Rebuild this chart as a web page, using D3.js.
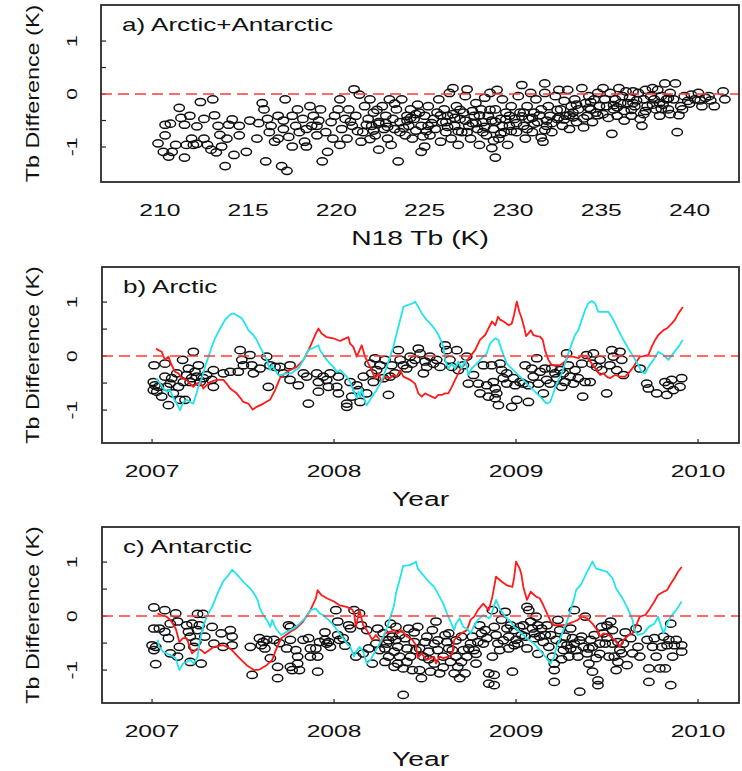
<!DOCTYPE html>
<html>
<head>
<meta charset="utf-8">
<script src="https://cdn.jsdelivr.net/npm/d3@7"></script>
<style>
  body { margin: 0; background: #fff; }
  text { font-family: "Liberation Sans", Arial, sans-serif; fill: #111; }
</style>
</head>
<body>
<div id="graph"></div>
<script>
'use strict';

// tick values
const N18_TICKS = [210, 215, 220, 225, 230, 235, 240];
const YEAR_TICKS = [2007, 2008, 2009, 2010];
const DIFF_TICKS = [-1, -0.5, 0, 0.5, 1];
const DIFF_LABELS = [-1, 0, 1];

// a) N18 Tb vs Tb difference
const pointsAll = [
  [209.9,-0.93],[210.3,-0.78],[210.3,-0.58],[210.6,-0.56],[210.7,-1.09],[210.9,-0.96],[211.1,-0.26],[211.2,-0.45],[211.4,-1.2],[211.5,-0.96],
  [211.7,-0.41],[211.8,-0.84],[211.9,-0.96],[212.1,-0.94],[212.3,-0.15],[212.5,-0.47],[212.5,-0.84],[212.7,-0.96],[212.9,-1.05],[213.0,-0.10],
  [213.1,-0.40],[213.2,-1.10],[213.3,-0.60],[213.5,-0.99],[213.7,-1.36],[213.8,-0.84],[214.1,-0.48],[214.2,-1.15],[214.5,-0.78],[214.5,-0.60],
  [214.9,-1.09],[215.1,-0.50],[210.2,-1.09],[210.5,-1.18],[211.4,-0.58],[212.1,-0.61],[213.4,-0.77],
  [215.5,-0.84],[215.8,-0.17],[215.9,-0.29],[216.0,-1.27],[216.1,-0.47],[216.2,-0.72],[216.3,-0.60],[216.5,-0.90],[216.7,-0.41],[216.9,-1.36],
  [217.0,-0.66],[217.1,-0.10],[217.2,-1.45],[217.3,-0.81],[217.5,-0.41],[217.7,-0.60],[217.8,-0.29],[217.9,-0.72],[218.1,-0.47],[218.2,-0.90],
  [218.3,-0.99],[218.5,-0.23],[218.6,-0.60],[218.7,-0.41],[218.9,-0.78],[219.1,-0.29],[219.2,-1.27],[219.4,-0.72],[219.5,-1.09],[219.7,-0.53],
  [219.8,-0.84],[219.9,-0.41],[220.1,-0.29],[220.2,-0.10],[220.2,-0.96],[216.7,-0.84],[217.5,-0.99],[218.3,-0.66],[218.9,-0.60],
  [220.3,-0.66],[220.5,-0.47],[220.6,-0.84],[220.7,-0.29],[220.9,-0.60],[221.0,0.09],[221.1,-0.41],[221.3,-0.01],[221.4,-0.90],[221.5,-0.72],
  [221.6,-0.23],[221.8,-0.47],[221.9,-0.10],[222.0,-0.60],[222.1,-0.35],[222.2,-0.78],[222.4,-1.05],[222.4,-0.53],[222.6,-0.23],[222.7,-0.66],
  [222.8,-0.41],[222.9,-0.84],[223.0,-0.10],[223.1,-0.96],[223.2,-0.47],[223.3,-0.66],[223.4,-0.29],[223.5,-1.27],[223.6,-0.53],[223.7,-0.10],
  [223.9,-0.78],[224.0,-0.41],[224.1,-0.60],[224.2,-0.29],[224.3,-0.84],[224.4,-0.47],[224.5,-0.69],[224.7,-0.35],[224.8,-1.09],[224.8,-0.60],
  [225.0,-0.99],[225.0,-0.41],[222.1,-0.69],[222.4,-0.56],[222.8,-0.55],[223.6,-0.72],[224.0,-0.50],[224.5,-0.38],
  [225.2,-0.60],[225.2,-0.23],[225.3,-0.78],[225.5,-0.47],[225.6,-0.66],[225.7,-0.35],[225.8,-0.10],[225.9,-0.90],[226.0,-0.53],[226.1,-0.29],
  [226.2,-0.72],[226.3,-0.41],[226.4,0.02],[226.5,-0.84],[226.6,0.11],[226.7,-0.60],[226.8,-0.23],[226.9,-0.96],[227.0,-0.47],[227.1,-0.72],
  [227.2,-0.35],[227.3,-0.04],[227.4,0.09],[227.5,-0.60],[227.6,-0.84],[227.8,-0.41],[227.9,-0.17],[228.0,-0.66],[228.1,-0.96],[228.2,-0.29],
  [228.3,-0.53],[228.4,-0.07],[228.5,-0.78],[228.6,-0.41],[228.7,0.02],[228.8,-1.02],[228.9,-0.66],[229.0,-0.29],[229.0,-1.20],[229.1,0.08],
  [229.2,-0.84],[229.3,-0.47],[229.4,-0.10],[229.5,-0.72],[229.6,-0.35],[229.7,-0.96],[229.8,-0.60],[229.9,-0.23],[226.6,-0.38],[227.3,-0.50],
  [227.7,-0.32],[228.3,-0.72],[228.8,-0.50],[229.4,-0.60],[229.8,-0.41],[226.2,-0.53],[227.9,-0.55],
  [230.1,-0.47],[230.2,-0.72],[230.3,-0.04],[230.4,-0.35],[230.5,0.17],[230.6,-0.60],[230.7,-0.84],[230.8,-0.23],[230.9,-0.47],[231.0,0.02],
  [231.1,-0.72],[231.2,-0.35],[231.3,-0.10],[231.4,-0.53],[231.6,-0.29],[231.7,-0.90],[231.8,0.02],[231.8,0.20],[231.9,-0.60],[232.0,-0.23],
  [232.1,-0.41],[232.2,-0.72],[232.4,-0.04],[232.5,-0.47],[232.6,0.08],[232.7,-0.29],[232.8,-0.60],[232.9,-0.13],[233.0,-0.41],[233.1,0.08],
  [233.2,-0.66],[233.3,-0.23],[233.4,-0.35],[233.5,-0.10],[233.6,-0.53],[233.7,-0.29],[233.9,0.11],[234.0,-0.63],[234.1,-0.17],[234.2,-0.41],
  [234.3,-0.04],[234.4,-0.29],[234.5,-0.53],[234.6,-0.10],[234.7,-0.35],[234.8,0.02],[234.9,-0.23],[230.6,-0.35],[231.2,-0.56],[231.9,-0.50],
  [232.6,-0.44],[233.4,-0.44],[234.3,-0.26],
  [235.1,0.11],[235.1,-0.38],[235.2,-0.10],[235.3,-0.23],[235.5,0.02],[235.6,-0.75],[235.7,-0.29],[235.8,-0.10],[235.9,-0.41],[236.0,0.11],
  [236.1,-0.17],[236.2,-0.04],[236.3,-0.32],[236.4,0.05],[236.5,-0.17],[236.6,-0.07],[236.7,-0.41],[236.8,0.05],[236.9,-0.23],[237.1,0.02],
  [237.2,-0.47],[237.3,-0.60],[237.4,-0.10],[237.5,0.08],[237.6,-0.23],[237.8,-0.04],[237.9,0.11],[238.0,-0.10],[238.1,-0.29],[238.2,0.08],
  [238.3,-0.41],[238.4,-0.04],[238.5,-0.20],[238.6,0.20],[238.7,-0.10],[238.8,-0.29],[238.9,0.02],[239.1,-0.10],[239.2,0.20],[239.3,-0.72],
  [239.5,-0.23],[239.7,-0.04],[239.9,-0.13],[240.1,-0.01],[240.3,-0.10],[240.5,0.02],[240.7,-0.23],[240.9,-0.07],[241.1,-0.04],[241.4,-0.23],
  [241.9,0.05],[242.0,-0.10],[235.7,-0.21],[236.8,-0.17],[237.5,-0.32],[238.3,-0.17],[238.9,-0.38],[239.6,-0.29],
  [220.8,-0.52],[221.2,-0.70],[221.7,-0.58],[222.3,-0.30],[222.9,-0.62],[223.3,-0.18],[223.8,-0.64],[224.2,-0.45],[224.6,-0.20],[225.1,-0.70],
  [225.4,-0.55],[225.9,-0.40],[226.3,-0.62],[226.7,-0.45],[227.0,-0.30],[227.4,-0.72],[227.7,-0.55],[228.1,-0.40],[228.4,-0.62],[228.7,-0.30],
  [229.0,-0.52],[229.3,-0.75],[229.6,-0.48],[229.9,-0.70],[230.2,-0.55],[230.5,-0.42],[230.8,-0.66],[231.1,-0.45],[231.5,-0.40],[231.8,-0.68],
  [232.2,-0.55],[232.5,-0.30],[232.9,-0.48],[233.2,-0.40],[233.6,-0.20],[234.0,-0.46],[234.4,-0.15],[234.8,-0.40],[235.4,-0.45],[235.9,-0.25],
  [236.3,-0.50],[236.7,-0.30],[237.0,-0.12],[237.4,-0.38],[237.9,-0.20],[238.4,-0.28],[238.8,-0.08],[239.4,-0.40],[240.0,-0.18],[240.6,-0.12],
  [241.2,-0.12],[228.9,-0.88],[226.9,-0.70],[224.9,-0.80],[231.6,-0.82],[221.9,-0.85],[219.0,-0.50],[217.0,-0.50],[215.6,-0.55],[213.9,-0.58]
];

// b) Arctic: year vs Tb difference
const pointsArctic = [
  [2007.011,-0.17],[2007.007,-0.48],[2007.016,-0.54],[2007.007,-0.63],[2007.026,-0.66],[2007.035,-0.57],[2007.053,-0.75],[2007.071,-0.38],
  [2007.071,-0.14],[2007.081,-0.57],[2007.090,-0.91],[2007.099,-0.51],[2007.108,-0.41],[2007.117,-0.69],[2007.136,-0.32],[2007.145,-0.57],
  [2007.154,-0.81],[2007.168,-0.07],[2007.172,-0.48],[2007.181,-0.81],[2007.190,-0.35],[2007.200,-0.23],[2007.209,-0.48],[2007.218,-0.41],
  [2007.227,0.08],[2007.236,-0.29],[2007.245,-0.38],[2007.255,-0.17],[2007.264,-0.48],[2007.282,-0.41],[2007.300,-0.35],[2007.328,-0.44],
  [2007.337,-0.26],[2007.337,-0.57],[2007.392,-0.32],[2007.429,-0.29],[2007.474,-0.29],[2007.484,0.11],[2007.493,-0.07],[2007.502,-0.17],
  [2007.538,0.02],[2007.548,-0.17],[2007.557,-0.32],[2007.593,-0.23],[2007.630,-0.01],[2007.639,-0.57],[2007.648,-0.17],[2007.676,-0.20],
  [2007.703,-0.20],[2007.722,-0.32],[2007.758,-0.17],[2007.758,-0.44],[2007.804,-0.54],[2007.832,-0.32],[2007.850,-0.38],[2007.859,-0.88],
  [2007.905,-0.32],[2007.914,-0.48],[2007.914,-0.66],[2007.941,-0.38],[2007.960,-0.44],[2007.969,-0.57],[2007.978,-0.32],[2008.015,-0.57],
  [2008.024,-0.38],[2008.024,-0.69],[2008.070,-0.88],[2008.070,-0.94],[2008.088,-0.48],[2008.097,-0.75],[2008.125,-0.54],[2008.134,-0.63],
  [2008.143,-0.85],[2008.161,-0.38],[2008.179,-0.69],[2008.198,-0.14],[2008.207,-0.32],[2008.216,-0.48],[2008.225,-0.04],[2008.234,-0.26],
  [2008.253,-0.17],[2008.271,-0.41],[2008.280,-0.07],[2008.299,-0.72],[2008.308,-0.38],[2008.317,-0.17],[2008.335,-0.32],[2008.353,0.11],
  [2008.363,-0.07],[2008.381,-0.17],[2008.399,-0.23],[2008.418,-0.01],[2008.427,-0.14],[2008.445,-0.07],[2008.463,0.14],[2008.473,0.05],
  [2008.491,-0.32],[2008.500,-0.10],[2008.509,-0.20],[2008.527,-0.01],[2008.546,-0.14],[2008.564,-0.07],[2008.582,-0.20],[2008.610,0.20],
  [2008.619,0.11],[2008.637,-0.07],[2008.647,-0.20],[2008.674,0.11],[2008.683,-0.26],[2008.711,-0.17],[2008.729,-0.01],[2008.738,-0.51],
  [2008.766,-0.35],[2008.793,-0.51],[2008.802,-0.69],[2008.821,-0.17],[2008.839,-0.54],[2008.848,-0.75],
  [2008.866,-0.17],[2008.875,-0.48],[2008.885,-0.60],[2008.885,-0.78],[2008.894,-0.69],[2008.903,-0.91],[2008.912,-0.14],[2008.921,-0.26],
  [2008.930,-0.41],[2008.949,-0.32],[2008.949,-0.51],[2008.976,-0.94],[2008.985,-0.41],[2008.995,-0.54],[2009.004,-0.81],[2009.022,-0.48],
  [2009.040,-0.51],[2009.050,-0.17],[2009.068,-0.54],[2009.068,-0.85],[2009.086,-0.23],[2009.095,-0.38],[2009.114,-0.04],[2009.123,-0.51],
  [2009.132,-0.29],[2009.150,-0.69],[2009.159,-0.23],[2009.168,-0.44],[2009.187,-0.51],[2009.196,-0.23],[2009.214,-0.32],[2009.223,-0.41],
  [2009.242,-0.26],[2009.251,-0.57],[2009.260,-0.32],[2009.269,-0.48],[2009.278,0.05],[2009.287,-0.17],[2009.297,-0.38],[2009.315,-0.51],
  [2009.324,-0.26],[2009.342,-0.41],[2009.361,-0.14],[2009.366,-0.75],[2009.379,-0.48],[2009.388,0.02],[2009.407,-0.48],[2009.416,-0.14],
  [2009.425,0.05],[2009.443,-0.20],[2009.462,-0.07],[2009.471,-0.26],[2009.498,-0.69],[2009.516,-0.17],[2009.526,0.11],[2009.535,-0.01],
  [2009.553,-0.26],[2009.571,0.08],[2009.581,-0.07],[2009.590,-0.35],[2009.681,-0.23],[2009.718,-0.51],[2009.727,-0.60],[2009.773,-0.69],
  [2009.818,-0.48],[2009.828,-0.72],[2009.837,-0.54],[2009.855,-0.44],[2009.864,-0.63],[2009.901,-0.57],[2009.910,-0.41]
];

const redArctic = [
  [2007.022,0.14],[2007.035,0.11],[2007.053,0.08],[2007.071,-0.07],[2007.090,-0.01],[2007.108,-0.17],[2007.126,-0.29],[2007.145,-0.32],
  [2007.163,-0.41],[2007.190,-0.44],[2007.209,-0.51],[2007.227,-0.57],[2007.245,-0.51],[2007.264,-0.48],[2007.282,-0.60],[2007.300,-0.54],
  [2007.319,-0.48],[2007.355,-0.44],[2007.392,-0.44],[2007.410,-0.51],[2007.429,-0.60],[2007.465,-0.69],[2007.502,-0.85],[2007.529,-0.88],
  [2007.553,-0.99],[2007.575,-0.94],[2007.612,-0.88],[2007.648,-0.81],[2007.676,-0.63],[2007.703,-0.41],[2007.731,-0.32],[2007.758,-0.26],
  [2007.795,-0.20],[2007.832,-0.07],[2007.868,0.17],[2007.896,0.39],[2007.914,0.51],[2007.932,0.42],[2007.960,0.35],[2007.996,0.33],
  [2008.033,0.28],[2008.051,0.31],[2008.079,0.35],[2008.088,0.23],[2008.106,0.17],[2008.125,-0.01],[2008.152,0.20],[2008.170,-0.01],
  [2008.189,-0.14],[2008.207,-0.26],[2008.225,-0.41],[2008.244,-0.32],[2008.262,-0.48],[2008.280,-0.38],[2008.308,-0.41],[2008.326,-0.35],
  [2008.344,-0.38],[2008.363,-0.26],[2008.381,-0.38],[2008.418,-0.44],[2008.445,-0.51],[2008.463,-0.69],[2008.482,-0.75],[2008.500,-0.69],
  [2008.518,-0.72],[2008.537,-0.75],[2008.555,-0.78],[2008.573,-0.72],[2008.592,-0.72],[2008.610,-0.69],[2008.628,-0.69],[2008.647,-0.57],
  [2008.665,-0.44],[2008.692,-0.26],[2008.720,-0.14],[2008.747,-0.01],[2008.775,0.11],[2008.802,0.30],[2008.830,0.39],[2008.868,0.64],
  [2008.886,0.57],[2008.901,0.73],[2008.914,0.67],[2008.932,0.64],[2008.960,0.57],[2008.976,0.60],[2008.989,0.76],[2009.004,1.01],
  [2009.018,0.82],[2009.031,0.70],[2009.044,0.54],[2009.055,0.37],[2009.068,0.42],[2009.081,0.48],[2009.095,0.39],[2009.114,0.37],
  [2009.132,0.36],[2009.147,0.30],[2009.159,0.11],[2009.178,-0.07],[2009.196,-0.17],[2009.214,-0.17],[2009.242,-0.17],[2009.269,-0.10],
  [2009.287,-0.01],[2009.315,-0.01],[2009.342,-0.04],[2009.361,0.02],[2009.388,-0.01],[2009.416,-0.14],[2009.443,-0.26],[2009.462,-0.35],
  [2009.480,-0.32],[2009.498,-0.38],[2009.516,-0.41],[2009.544,-0.35],[2009.571,-0.38],[2009.599,-0.38],[2009.617,-0.32],[2009.645,-0.20],
  [2009.663,-0.10],[2009.681,-0.01],[2009.700,0.00],[2009.727,0.02],[2009.745,0.17],[2009.764,0.30],[2009.782,0.39],[2009.810,0.48],
  [2009.828,0.51],[2009.855,0.60],[2009.873,0.67],[2009.892,0.79],[2009.916,0.91]
];

const cyanArctic = [
  [2007.022,-0.41],[2007.044,-0.51],[2007.062,-0.60],[2007.081,-0.66],[2007.099,-0.63],[2007.117,-0.78],[2007.136,-0.88],[2007.154,-1.00],
  [2007.172,-0.85],[2007.190,-0.81],[2007.209,-0.85],[2007.227,-0.88],[2007.236,-0.78],[2007.255,-0.57],[2007.273,-0.41],[2007.291,-0.20],
  [2007.310,-0.01],[2007.328,0.17],[2007.346,0.33],[2007.374,0.51],[2007.401,0.67],[2007.429,0.77],[2007.447,0.79],[2007.474,0.74],
  [2007.493,0.70],[2007.511,0.60],[2007.529,0.48],[2007.557,0.39],[2007.575,0.30],[2007.593,0.17],[2007.612,0.05],[2007.630,-0.07],
  [2007.648,-0.26],[2007.658,-0.17],[2007.676,-0.26],[2007.694,-0.35],[2007.712,-0.35],[2007.740,-0.32],[2007.767,-0.32],[2007.786,-0.26],
  [2007.804,-0.23],[2007.832,-0.07],[2007.859,0.11],[2007.886,0.15],[2007.914,0.20],[2007.923,0.11],[2007.941,0.02],[2007.960,-0.07],
  [2007.978,-0.14],[2007.996,-0.20],[2008.015,-0.29],[2008.033,-0.26],[2008.051,-0.32],[2008.070,-0.38],[2008.088,-0.48],[2008.106,-0.63],
  [2008.125,-0.78],[2008.134,-0.66],[2008.143,-0.75],[2008.152,-0.60],[2008.170,-0.85],[2008.179,-0.91],[2008.198,-0.81],[2008.216,-0.72],
  [2008.234,-0.63],[2008.253,-0.51],[2008.271,-0.38],[2008.289,-0.20],[2008.308,-0.01],[2008.326,0.17],[2008.344,0.42],[2008.363,0.67],
  [2008.381,0.91],[2008.399,0.94],[2008.418,0.96],[2008.436,0.98],[2008.445,1.01],[2008.463,0.91],[2008.482,0.79],[2008.509,0.67],
  [2008.537,0.57],[2008.564,0.45],[2008.582,0.33],[2008.601,0.17],[2008.610,-0.07],[2008.628,-0.23],[2008.647,-0.14],[2008.665,-0.23],
  [2008.683,-0.10],[2008.701,-0.23],[2008.720,-0.07],[2008.738,-0.35],[2008.756,-0.23],[2008.784,-0.14],[2008.811,-0.04],[2008.839,0.05],
  [2008.857,0.23],[2008.885,0.33],[2008.903,0.30],[2008.921,0.11],[2008.949,-0.14],[2008.985,-0.26],[2009.022,-0.38],[2009.059,-0.51],
  [2009.095,-0.63],[2009.132,-0.75],[2009.168,-0.88],[2009.187,-0.85],[2009.205,-0.69],[2009.223,-0.51],[2009.251,-0.32],[2009.269,-0.14],
  [2009.287,0.05],[2009.306,0.23],[2009.324,0.39],[2009.342,0.48],[2009.361,0.67],[2009.379,0.85],[2009.397,0.98],[2009.416,1.02],
  [2009.434,0.98],[2009.452,0.82],[2009.480,0.82],[2009.507,0.82],[2009.535,0.67],[2009.562,0.48],[2009.590,0.30],[2009.617,0.14],
  [2009.645,-0.01],[2009.672,-0.17],[2009.690,-0.29],[2009.709,-0.32],[2009.727,-0.20],[2009.755,-0.07],[2009.782,0.08],[2009.810,0.02],
  [2009.837,-0.07],[2009.864,0.05],[2009.892,0.17],[2009.916,0.30]
];

// c) Antarctic: year vs Tb difference
const pointsAntarctic = [
  [2007.01,0.16],[2007.07,0.11],[2007.13,0.05],[2007.01,-0.23],[2007.04,-0.23],[2007.07,-0.29],[2007.10,-0.14],[2007.14,-0.10],
  [2007.00,-0.54],[2007.01,-0.63],[2007.02,-0.57],[2007.02,-0.89],[2007.09,-0.41],[2007.10,-0.69],[2007.14,-0.75],[2007.15,-0.57],
  [2007.19,-0.17],[2007.20,-0.29],[2007.21,-0.38],[2007.22,-0.14],[2007.23,-0.57],[2007.24,-0.48],[2007.25,-0.26],[2007.25,0.04],
  [2007.26,-0.17],[2007.28,0.04],[2007.21,-0.85],[2007.27,-0.88],[2007.29,-0.38],[2007.33,-0.20],[2007.34,-0.51],[2007.38,-0.32],
  [2007.39,-0.57],[2007.43,-0.26],[2007.44,-0.38],[2007.44,-0.54],[2007.54,-0.57],[2007.55,-1.09],[2007.59,-0.41],[2007.60,-0.54],
  [2007.61,-0.48],[2007.62,-0.60],[2007.63,-0.44],[2007.65,-0.78],[2007.67,-0.44],[2007.69,-0.94],[2007.69,-1.15],[2007.74,-0.60],
  [2007.75,-0.17],[2007.76,-0.20],[2007.76,-0.44],[2007.76,-0.94],[2007.77,-1.00],[2007.79,-0.63],[2007.80,-0.75],[2007.80,-0.88],
  [2007.81,-1.00],[2007.83,-0.44],[2007.86,-0.41],[2007.87,-0.60],[2007.87,-0.75],[2007.90,-0.60],[2007.91,-0.75],[2007.91,-1.03],
  [2007.92,-0.48],[2007.95,-0.44],[2007.96,-0.51],[2007.97,-0.48],[2007.98,-0.57],[2008.01,0.11],[2008.02,-0.10],[2008.02,-0.35],
  [2008.03,-0.44],[2008.05,-0.41],[2008.08,-0.17],[2008.09,-0.23],[2008.11,0.11],[2008.14,0.05],[2008.15,-0.17],[2008.12,-0.75],
  [2008.16,-0.69],[2008.18,-0.26],[2008.19,-0.60],[2008.21,-0.88],[2008.23,-0.51],[2008.24,-0.23],[2008.25,-0.63],[2008.27,-0.32],
  [2008.28,-0.60],[2008.28,-0.85],[2008.29,-0.51],[2008.30,-0.75],[2008.31,-0.14],[2008.32,-0.38],[2008.33,-0.66],[2008.33,-0.94],
  [2008.34,-0.20],[2008.34,-0.44],[2008.35,-0.57],[2008.35,-0.88],[2008.36,-0.75],[2008.38,-1.46],[2008.38,-0.97],[2008.39,-0.41],
  [2008.40,-0.60],[2008.41,-0.23],[2008.42,-0.75],[2008.43,-1.00],[2008.44,-0.48],[2008.45,-0.63],[2008.46,-0.20],[2008.47,-1.00],
  [2008.48,-1.15],[2008.49,-0.75],[2008.50,-0.48],[2008.51,-0.38],[2008.52,-0.66],[2008.53,-1.03],[2008.54,-0.26],[2008.55,-0.51],
  [2008.55,-0.88],[2008.56,-0.10],[2008.57,-0.63],[2008.58,-1.06],[2008.60,-0.75],[2008.61,-0.35],[2008.62,-0.48],[2008.63,-0.32],
  [2008.64,-0.85],[2008.65,-0.63],[2008.66,-1.06],[2008.67,-0.75],[2008.68,-0.94],[2008.69,-1.15],[2008.70,-0.38],[2008.71,-0.63],
  [2008.72,-1.06],[2008.73,-0.75],[2008.75,-0.51],[2008.76,-0.38],[2008.77,-0.63],[2008.78,-0.88],[2008.79,-0.48],[2008.80,-0.17],
  [2008.81,-0.32],[2008.82,-0.51],[2008.83,-0.26],[2008.84,-0.41],[2008.85,-1.06],[2008.85,-1.25],
  [2008.87,0.11],[2008.88,-0.20],[2008.89,-0.35],[2008.90,-0.51],[2008.91,-0.63],[2008.87,-0.75],[2008.88,-1.09],[2008.88,-1.28],
  [2008.92,-0.07],[2008.94,0.08],[2008.95,-0.23],[2008.96,-0.38],[2008.97,-0.17],[2008.98,-1.03],[2008.99,-0.54],[2008.99,-0.26],
  [2009.00,-0.44],[2009.01,-0.51],[2009.02,-0.20],[2009.04,-0.17],[2009.05,-0.38],[2009.06,0.17],[2009.07,0.11],[2009.08,-0.10],
  [2009.09,-0.23],[2009.10,-0.41],[2009.10,-0.32],[2009.11,-0.01],[2009.12,-0.17],[2009.13,-0.38],[2009.14,-0.23],[2009.15,-0.48],
  [2009.17,-0.17],[2009.18,-0.57],[2009.19,-0.35],[2009.20,-0.75],[2009.21,-0.88],[2009.21,-1.00],[2009.21,-1.22],[2009.22,-0.44],
  [2009.23,-0.07],[2009.24,-0.26],[2009.25,-0.51],[2009.26,-0.63],[2009.27,-0.38],[2009.28,-0.54],[2009.29,-0.75],[2009.30,-0.23],
  [2009.31,-0.41],[2009.32,0.11],[2009.32,-0.51],[2009.33,-0.63],[2009.34,-0.75],[2009.35,-1.40],[2009.36,-0.38],[2009.37,-0.57],
  [2009.38,-0.01],[2009.39,-0.69],[2009.40,-0.88],[2009.41,-0.44],[2009.42,-1.03],[2009.42,-0.57],[2009.43,-0.35],[2009.44,-0.78],
  [2009.45,-1.19],[2009.45,-1.28],[2009.46,-0.51],[2009.47,-0.20],[2009.48,-0.32],[2009.49,-0.51],[2009.50,-0.17],[2009.51,-0.75],
  [2009.52,-0.10],[2009.53,-0.51],[2009.53,-0.26],[2009.54,-0.75],[2009.55,-1.00],[2009.56,-0.48],[2009.57,-0.63],[2009.58,-0.69],
  [2009.59,-0.51],[2009.61,-0.91],[2009.63,-0.41],[2009.64,-0.69],[2009.66,-0.23],[2009.67,-0.57],[2009.68,-0.75],[2009.72,-0.44],
  [2009.73,-0.97],[2009.73,-1.22],[2009.75,-0.57],[2009.76,-0.41],[2009.77,-0.75],[2009.79,-0.97],[2009.80,-0.57],[2009.81,-0.38],
  [2009.82,-0.97],[2009.83,-0.54],[2009.84,-0.44],[2009.85,-0.14],[2009.85,-1.28],[2009.86,-0.75],[2009.87,-0.54],[2009.88,-0.44],
  [2009.91,-0.54],[2009.91,-0.66],
  [2008.30,-0.45],[2008.36,-0.35],[2008.40,-0.85],[2008.44,-0.30],[2008.47,-0.60],[2008.52,-0.80],[2008.57,-0.45],[2008.60,-0.95],
  [2008.63,-0.60],[2008.67,-0.45],[2008.70,-0.85],[2008.74,-0.60],[2008.78,-0.70],[2008.93,-0.45],[2008.96,-0.60],[2009.03,-0.35],
  [2009.06,-0.60],[2009.12,-0.70],[2009.16,-0.35],[2009.25,-0.80],[2009.30,-0.60],[2009.35,-0.45],[2009.40,-0.60],[2009.46,-0.70],
  [2009.50,-0.40],[2009.56,-0.85],[2009.60,-0.30],[2008.06,-0.55],[2007.95,-0.30],[2007.70,-0.50]
];

const redAntarctic = [
  [2007.03,0.05],[2007.05,0.02],[2007.08,-0.01],[2007.10,-0.07],[2007.13,-0.23],[2007.15,-0.48],[2007.17,-0.41],[2007.19,-0.41],
  [2007.22,-0.69],[2007.25,-0.60],[2007.27,-0.63],[2007.29,-0.69],[2007.34,-0.57],[2007.39,-0.54],[2007.43,-0.60],[2007.48,-0.78],
  [2007.52,-0.91],[2007.56,-1.00],[2007.59,-0.99],[2007.63,-0.91],[2007.66,-0.81],[2007.68,-0.63],[2007.71,-0.41],[2007.76,-0.29],
  [2007.79,-0.23],[2007.83,-0.10],[2007.87,0.11],[2007.90,0.33],[2007.91,0.48],[2007.93,0.39],[2007.96,0.33],[2008.00,0.27],
  [2008.03,0.20],[2008.07,0.17],[2008.10,0.12],[2008.11,0.05],[2008.12,-0.20],[2008.14,0.11],[2008.16,-0.17],[2008.18,-0.26],
  [2008.21,-0.44],[2008.23,-0.35],[2008.26,-0.48],[2008.28,-0.32],[2008.31,-0.29],[2008.33,-0.26],[2008.35,-0.32],[2008.37,-0.26],
  [2008.40,-0.38],[2008.43,-0.44],[2008.45,-0.54],[2008.46,-0.78],[2008.48,-0.69],[2008.51,-0.81],[2008.53,-0.78],[2008.55,-0.75],
  [2008.56,-0.88],[2008.58,-0.75],[2008.60,-0.78],[2008.63,-0.75],[2008.65,-0.69],[2008.66,-0.44],[2008.68,-0.38],[2008.70,-0.32],
  [2008.73,-0.26],[2008.75,-0.07],[2008.77,-0.01],[2008.79,0.11],[2008.82,0.23],[2008.85,0.11],[2008.87,0.36],[2008.89,0.73],
  [2008.92,0.64],[2008.95,0.57],[2008.98,0.54],[2008.99,0.73],[2009.00,1.01],[2009.02,0.88],[2009.03,0.76],[2009.04,0.54],
  [2009.06,0.30],[2009.08,0.45],[2009.10,0.39],[2009.11,0.36],[2009.13,0.33],[2009.15,0.20],[2009.17,0.05],[2009.19,-0.10],
  [2009.21,-0.17],[2009.23,-0.17],[2009.26,-0.17],[2009.29,-0.14],[2009.32,-0.10],[2009.34,-0.07],[2009.36,-0.01],[2009.39,-0.04],
  [2009.42,-0.14],[2009.44,-0.23],[2009.46,-0.38],[2009.48,-0.32],[2009.51,-0.35],[2009.53,-0.41],[2009.55,-0.48],[2009.57,-0.57],
  [2009.59,-0.44],[2009.62,-0.35],[2009.64,-0.32],[2009.66,-0.17],[2009.68,-0.01],[2009.71,0.02],[2009.73,0.11],[2009.76,0.27],
  [2009.78,0.39],[2009.81,0.45],[2009.83,0.48],[2009.85,0.60],[2009.87,0.70],[2009.89,0.82],[2009.91,0.91]
];

const cyanAntarctic = [
  [2007.03,-0.44],[2007.04,-0.57],[2007.06,-0.66],[2007.08,-0.69],[2007.10,-0.72],[2007.13,-0.78],[2007.15,-1.00],[2007.17,-0.88],
  [2007.19,-0.85],[2007.21,-0.81],[2007.23,-0.88],[2007.25,-0.75],[2007.26,-0.51],[2007.28,-0.20],[2007.30,-0.01],[2007.33,0.17],
  [2007.36,0.42],[2007.39,0.64],[2007.42,0.76],[2007.44,0.86],[2007.47,0.76],[2007.50,0.64],[2007.54,0.51],[2007.56,0.42],
  [2007.58,0.30],[2007.59,0.17],[2007.61,0.02],[2007.63,-0.07],[2007.65,-0.20],[2007.66,-0.07],[2007.68,-0.23],[2007.71,-0.35],
  [2007.74,-0.29],[2007.76,-0.26],[2007.79,-0.20],[2007.81,-0.14],[2007.85,-0.01],[2007.87,0.11],[2007.90,0.14],[2007.92,0.05],
  [2007.94,0.02],[2007.97,-0.07],[2007.99,-0.14],[2008.01,-0.23],[2008.03,-0.32],[2008.05,-0.41],[2008.07,-0.51],[2008.09,-0.57],
  [2008.11,-0.75],[2008.12,-0.66],[2008.14,-0.57],[2008.16,-0.66],[2008.18,-0.88],[2008.20,-0.81],[2008.22,-0.69],[2008.23,-0.63],
  [2008.25,-0.51],[2008.27,-0.38],[2008.29,-0.23],[2008.31,-0.01],[2008.33,0.20],[2008.34,0.42],[2008.36,0.67],[2008.38,0.93],
  [2008.41,0.94],[2008.44,0.98],[2008.45,1.01],[2008.46,0.88],[2008.49,0.76],[2008.52,0.64],[2008.55,0.54],[2008.57,0.42],
  [2008.60,0.23],[2008.62,0.05],[2008.64,-0.10],[2008.66,-0.26],[2008.67,-0.14],[2008.69,-0.04],[2008.71,-0.20],[2008.73,-0.23],
  [2008.75,-0.32],[2008.77,-0.17],[2008.79,-0.07],[2008.82,0.02],[2008.85,-0.04],[2008.86,-0.01],[2008.89,0.30],[2008.91,0.14],
  [2008.94,-0.01],[2008.97,-0.10],[2008.99,-0.20],[2009.02,-0.29],[2009.06,-0.41],[2009.10,-0.51],[2009.13,-0.63],[2009.16,-0.75],
  [2009.19,-0.88],[2009.21,-0.75],[2009.22,-0.60],[2009.24,-0.44],[2009.26,-0.26],[2009.28,-0.10],[2009.30,0.11],[2009.32,0.33],
  [2009.33,0.48],[2009.36,0.60],[2009.39,0.82],[2009.42,1.01],[2009.44,0.88],[2009.47,0.85],[2009.50,0.82],[2009.53,0.70],
  [2009.55,0.51],[2009.58,0.36],[2009.61,0.17],[2009.64,-0.07],[2009.65,-0.26],[2009.67,-0.35],[2009.70,-0.32],[2009.73,-0.20],
  [2009.76,-0.14],[2009.78,-0.01],[2009.81,-0.32],[2009.83,-0.14],[2009.85,-0.01],[2009.88,0.11],[2009.91,0.27]
];

// ---- drawing ----
const WIDE = 1.45;            // glyphs in the reference are stretched along their reading direction
const svg = d3.select('#graph')
  .append('svg')
  .attr('width', 742)
  .attr('height', 771);

function wideText(g, x, y, str, size, anchor) {
  return g.append('text')
    .attr('transform', `translate(${x},${y}) scale(${WIDE},1)`)
    .attr('text-anchor', anchor || 'middle')
    .style('font-size', size + 'px')
    .text(str);
}

function upText(g, x, y, str, size, stretch) {
  return g.append('text')
    .attr('transform', `translate(${x},${y}) rotate(-90) scale(${stretch},1)`)
    .attr('text-anchor', 'middle')
    .style('font-size', size + 'px')
    .text(str);
}

function drawPanel(p) {
  const g = svg.append('g');
  const x = d3.scaleLinear().domain(p.xDomain).range([p.left, p.right]);
  const y = d3.scaleLinear().domain(p.yDomain).range([p.bottom, p.top]);

  // y ticks (inward) and rotated labels
  g.selectAll('.ytick')
    .data(DIFF_TICKS)
    .enter()
    .append('line')
    .attr('x1', p.left).attr('x2', p.left + 5)
    .attr('y1', d => y(d)).attr('y2', d => y(d))
    .attr('stroke', '#222').attr('stroke-width', 1.2);
  DIFF_LABELS.forEach(v => upText(g, 77, y(v), v, 15, 1.4));

  // x ticks
  if (p.xTickMarks) {
    g.selectAll('.xtick')
      .data(p.xTicks)
      .enter()
      .append('line')
      .attr('x1', d => x(d)).attr('x2', d => x(d))
      .attr('y1', p.bottom).attr('y2', p.bottom - 4)
      .attr('stroke', '#222').attr('stroke-width', 1.2);
  }
  p.xTicks.forEach(v => wideText(g, x(v), p.bottom + 34, v, 17));

  // points
  g.selectAll('.pt')
    .data(p.points)
    .enter()
    .append('ellipse')
    .attr('cx', d => x(d[0]))
    .attr('cy', d => y(d[1]))
    .attr('rx', 5.2)
    .attr('ry', 3.6)
    .attr('fill', 'none')
    .attr('stroke', '#111')
    .attr('stroke-width', 1.5);

  // series lines
  const line = d3.line().x(d => x(d[0])).y(d => y(d[1]));
  (p.lines || []).forEach(l => {
    g.append('path')
      .datum(l.data)
      .attr('d', line)
      .attr('fill', 'none')
      .attr('stroke', l.color)
      .attr('stroke-width', 1.8)
      .attr('stroke-linejoin', 'round');
  });

  // zero reference
  g.append('line')
    .attr('x1', p.left).attr('x2', p.right)
    .attr('y1', y(0)).attr('y2', y(0))
    .attr('stroke', '#ff3b3b')
    .attr('stroke-width', 1.5)
    .attr('stroke-dasharray', '11,6');

  // frame
  g.append('rect')
    .attr('x', p.left).attr('y', p.top)
    .attr('width', p.right - p.left)
    .attr('height', p.bottom - p.top)
    .attr('fill', 'none')
    .attr('stroke', '#2a2a2a')
    .attr('stroke-width', 1.8);

  wideText(g, p.left + 21, p.top + 26, p.title, 18, 'start');
  upText(g, 39, (p.top + p.bottom) / 2, 'Tb Difference (K)', 18, 1.3);
  wideText(g, (p.left + p.right) / 2, p.bottom + 63, p.xLabel, 19.5);
}

drawPanel({
  left: 101, right: 739, top: 5, bottom: 182,
  xDomain: [206.67, 242.8], yDomain: [-1.66, 1.68],
  xTicks: N18_TICKS, xTickMarks: false,
  points: pointsAll,
  title: 'a) Arctic+Antarctic', xLabel: 'N18 Tb (K)'
});

drawPanel({
  left: 102, right: 739, top: 267, bottom: 443,
  xDomain: [2006.725, 2010.225], yDomain: [-1.61, 1.65],
  xTicks: YEAR_TICKS, xTickMarks: true,
  points: pointsArctic,
  lines: [{ data: redArctic, color: '#ff1a1a' }, { data: cyanArctic, color: '#22e4ec' }],
  title: 'b) Arctic', xLabel: 'Year'
});

drawPanel({
  left: 102, right: 739, top: 527, bottom: 703,
  xDomain: [2006.725, 2010.225], yDomain: [-1.61, 1.65],
  xTicks: YEAR_TICKS, xTickMarks: true,
  points: pointsAntarctic,
  lines: [{ data: redAntarctic, color: '#ff1a1a' }, { data: cyanAntarctic, color: '#22e4ec' }],
  title: 'c) Antarctic', xLabel: 'Year'
});
</script>
</body>
</html>
